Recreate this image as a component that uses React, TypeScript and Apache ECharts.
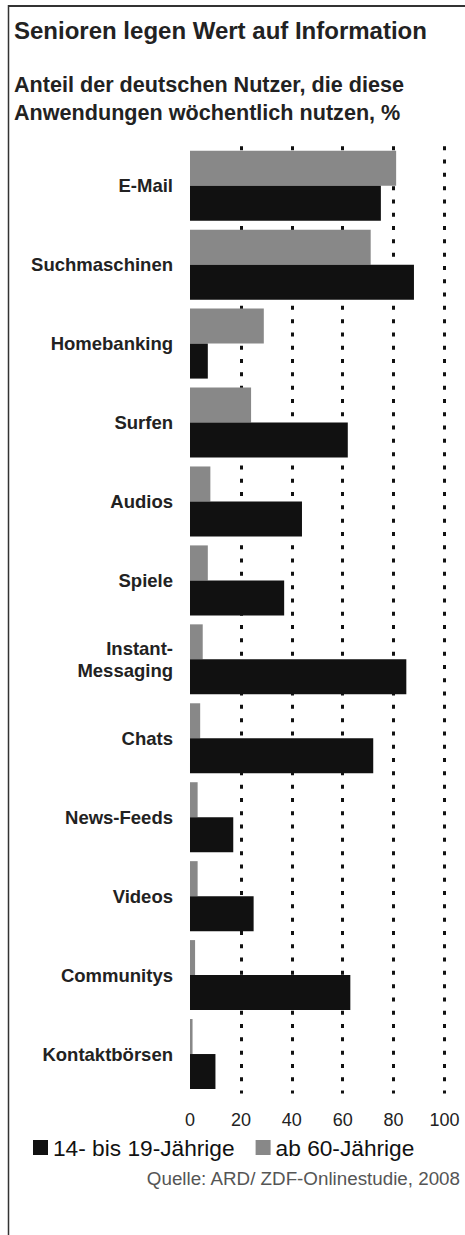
import React, { useEffect, useRef } from "react";
import * as echarts from "echarts";

const categories = [
  "E-Mail",
  "Suchmaschinen",
  "Homebanking",
  "Surfen",
  "Audios",
  "Spiele",
  "Instant-\nMessaging",
  "Chats",
  "News-Feeds",
  "Videos",
  "Communitys",
  "Kontaktbörsen",
];
const teens = [75, 88, 7, 62, 44, 37, 85, 72, 17, 25, 63, 10];
const seniors = [81, 71, 29, 24, 8, 7, 5, 4, 3, 3, 2, 1];
const xTicks = [0, 20, 40, 60, 80, 100];
const seriesNames = ["14- bis 19-Jährige", "ab 60-Jährige"];

const FONT = "'Liberation Sans', Arial, Helvetica, sans-serif";

export default function App() {
  const ref = useRef<HTMLDivElement>(null);
  useEffect(() => {
    document.body.style.margin = "0";
    const chart = echarts.init(ref.current!, null, { renderer: "svg" });
    chart.setOption({
      animation: false,
      backgroundColor: "#ffffff",
      title: [
        {
          text: "Senioren legen Wert auf Information",
          left: 14,
          top: 18,
          padding: 0,
          textStyle: { fontFamily: FONT, fontSize: 24, fontWeight: "bold", color: "#222", lineHeight: 25 },
        },
        {
          text: "Anteil der deutschen Nutzer, die diese\nAnwendungen wöchentlich nutzen, %",
          left: 14,
          top: 70,
          padding: 0,
          textStyle: { fontFamily: FONT, fontSize: 21.6, fontWeight: "bold", color: "#222", lineHeight: 28 },
        },
      ],
      legend: {
        data: seriesNames,
        left: 33,
        top: 1136,
        padding: 0,
        itemWidth: 15,
        itemHeight: 15,
        itemGap: 21,
        icon: "rect",
        textStyle: { fontFamily: FONT, fontSize: 22.7, color: "#111" },
      },
      grid: { left: 190, right: 20.5, top: 146.25, bottom: 141.5, containLabel: false },
      xAxis: {
        type: "value",
        min: xTicks[0],
        max: xTicks[xTicks.length - 1],
        interval: 20,
        axisLine: { show: false },
        axisTick: { show: false },
        axisLabel: { fontFamily: FONT, fontSize: 18, color: "#222", margin: 17 },
        splitLine: {
          show: true,
          showMinLine: false,
          lineStyle: { color: "#111", width: 3, type: [4, 9.3] },
        },
      },
      yAxis: {
        type: "category",
        data: categories,
        inverse: true,
        axisLine: { show: false },
        axisTick: { show: false },
        axisLabel: {
          fontFamily: FONT,
          fontSize: 18.5,
          fontWeight: "bold",
          color: "#222",
          margin: 17,
          lineHeight: 22,
          align: "right",
        },
      },
      series: [
        {
          name: seriesNames[1],
          type: "bar",
          data: seniors,
          barWidth: 35,
          barGap: "0%",
          itemStyle: { color: "#888888" },
        },
        {
          name: seriesNames[0],
          type: "bar",
          data: teens,
          barWidth: 35,
          barGap: "0%",
          itemStyle: { color: "#111111" },
        },
      ],
      graphic: [
        { type: "line", shape: { x1: 8, y1: 6, x2: 465, y2: 6 }, style: { stroke: "#333", lineWidth: 2 } },
        { type: "line", shape: { x1: 8.5, y1: 5, x2: 8.5, y2: 1235 }, style: { stroke: "#333", lineWidth: 1.5 } },
        {
          type: "text",
          x: 460,
          y: 1178,
          style: {
            text: "Quelle: ARD/ ZDF-Onlinestudie, 2008",
            fontFamily: FONT,
            fontSize: 18.8,
            fill: "#555",
            textAlign: "right",
            textVerticalAlign: "middle",
          },
        },
      ],
    });
    return () => chart.dispose();
  }, []);
  return <div ref={ref} style={{ width: 465, height: 1235 }} />;
}
